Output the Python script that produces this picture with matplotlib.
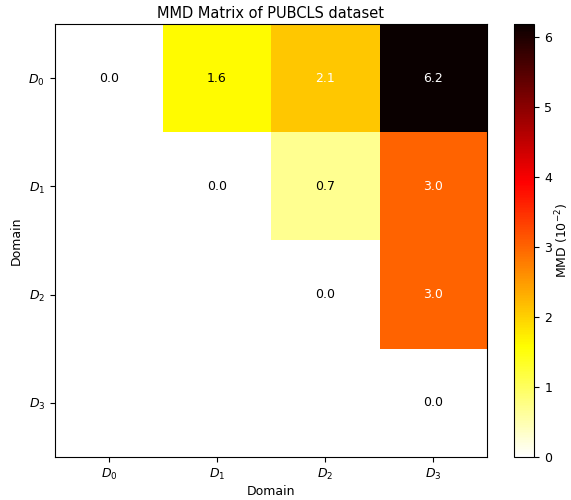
import numpy as np
import matplotlib
matplotlib.use("Agg")
import matplotlib.pyplot as plt

matplotlib.rcParams["font.size"] = 9

# domain names and pairwise MMD values (x 1e-2), upper triangle only
domains = ["$D_0$", "$D_1$", "$D_2$", "$D_3$"]
mmd = np.array([
    [0.0, 1.6, 2.1, 6.18],
    [np.nan, 0.0, 0.7, 3.0],
    [np.nan, np.nan, 0.0, 3.0],
    [np.nan, np.nan, np.nan, 0.0],
])

fig = plt.figure(figsize=(5.71, 5.0), dpi=100)
ax = fig.add_axes([0.096, 0.086, 0.757, 0.866])
cax = fig.add_axes([0.900, 0.086, 0.036, 0.866])

data = np.ma.masked_invalid(mmd)
im = ax.imshow(data, cmap="hot_r", vmin=0, vmax=np.nanmax(mmd), aspect="auto")

for i in range(len(domains)):
    for j in range(len(domains)):
        if np.isnan(mmd[i, j]):
            continue
        val = mmd[i, j]
        color = "white" if val > 2 else "black"
        ax.text(j, i, "{:.1f}".format(val), ha="center", va="center", color=color, fontsize=9)

ax.set_xticks(range(len(domains)))
ax.set_yticks(range(len(domains)))
ax.set_xticklabels(domains)
ax.set_yticklabels(domains)
ax.set_xlabel("Domain", labelpad=2)
ax.set_ylabel("Domain")
ax.set_title("MMD Matrix of PUBCLS dataset", fontsize=10.5, pad=4)

cbar = fig.colorbar(im, cax=cax)
cbar.set_label("MMD ($10^{-2}$)", labelpad=1)

fig.savefig("out.png", dpi=100)
